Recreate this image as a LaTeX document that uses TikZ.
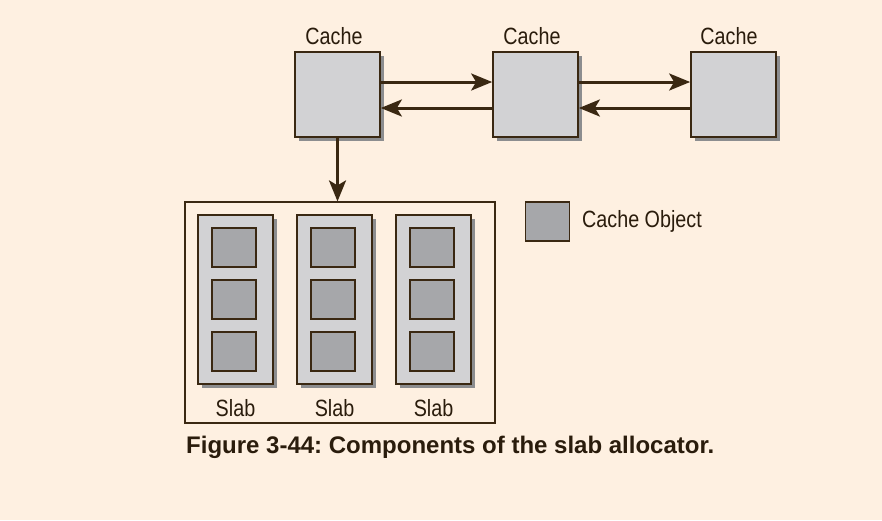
\documentclass[tikz,border=0pt]{standalone}
\usepackage{fontspec}
\setmainfont{Liberation Sans}[FakeStretch=0.84]
\newfontfamily\capfont{Liberation Sans}
\usetikzlibrary{arrows.meta,shadows}
\definecolor{bg}{HTML}{FEF0E1}
\definecolor{brd}{HTML}{3A2812}
\definecolor{txt}{HTML}{2A1C0C}
\definecolor{lgray}{HTML}{D2D2D4}
\definecolor{dgray}{HTML}{A6A7AA}
\definecolor{shad}{HTML}{8C8D8F}
\frenchspacing
\begin{document}
\begin{tikzpicture}[x=1pt,y=-1pt,
  shbox/.style={draw=brd, line width=1.7pt, inner sep=0pt,
    drop shadow={shadow xshift=4pt, shadow yshift=-4pt, fill=shad, opacity=1}},
  cachebox/.style={shbox, fill=lgray, minimum width=85pt, minimum height=85pt},
  slabbox/.style={shbox, fill=lgray, minimum width=75pt, minimum height=169pt},
  objbox/.style={draw=brd, line width=1.7pt, fill=dgray, inner sep=0pt, minimum width=44pt, minimum height=39pt},
  lbl/.style={text=txt, font=\fontsize{23.5}{26}\selectfont, inner sep=0pt},
  arr/.style={draw=brd, line width=3pt, -{Stealth[length=21pt, width=17pt, inset=5pt]}}
]
\fill[bg] (0,0) rectangle (882,520);
\useasboundingbox (0,0) rectangle (882,520);

% caches
\node[cachebox] (c1) at (337.5,94.5) {};
\node[cachebox] (c2) at (535.5,94.5) {};
\node[cachebox] (c3) at (733.5,94.5) {};
\node[lbl] (l1) at (334,36) {Cache};
\node[lbl] (l2) at (532,36) {Cache};
\node[lbl] (l3) at (729,36) {Cache};

\draw[arr] ([yshift=12.5pt]c1.east) -- ([yshift=12.5pt]c2.west);
\draw[arr] ([yshift=-13.5pt]c2.west) -- ([yshift=-13.5pt]c1.east);
\draw[arr] ([yshift=12.5pt]c2.east) -- ([yshift=12.5pt]c3.west);
\draw[arr] ([yshift=-13.5pt]c3.west) -- ([yshift=-13.5pt]c2.east);

% frame
\node[draw=brd, line width=1.2pt, minimum width=310pt, minimum height=221pt, inner sep=0pt] (fr) at (340,312.5) {};
\draw[arr] (c1.south) -- (c1.south |- fr.north);

% slabs
\foreach \i/\x in {1/235.5, 2/334.5, 3/433.5} {
  \node[slabbox] (s\i) at (\x,299.5) {};
  \node[objbox] (o\i a) at (\x-1.5,247.5) {};
  \node[objbox] (o\i b) at (\x-1.5,299.5) {};
  \node[objbox] (o\i c) at (\x-1.5,351.5) {};
  \node[lbl] (sl\i) at (\x,408) {Slab};
}

% legend
\node[objbox] (leg) at (547.5,221.5) {};
\node[lbl, anchor=west] (legt) at (582,221) {Cache Object};

% caption
\node[text=txt, font=\capfont\fontsize{24}{27}\selectfont\bfseries, anchor=west, inner sep=0pt] (cap) at (186,447) {Figure 3-44: Components of the slab allocator.};
\end{tikzpicture}
\end{document}
